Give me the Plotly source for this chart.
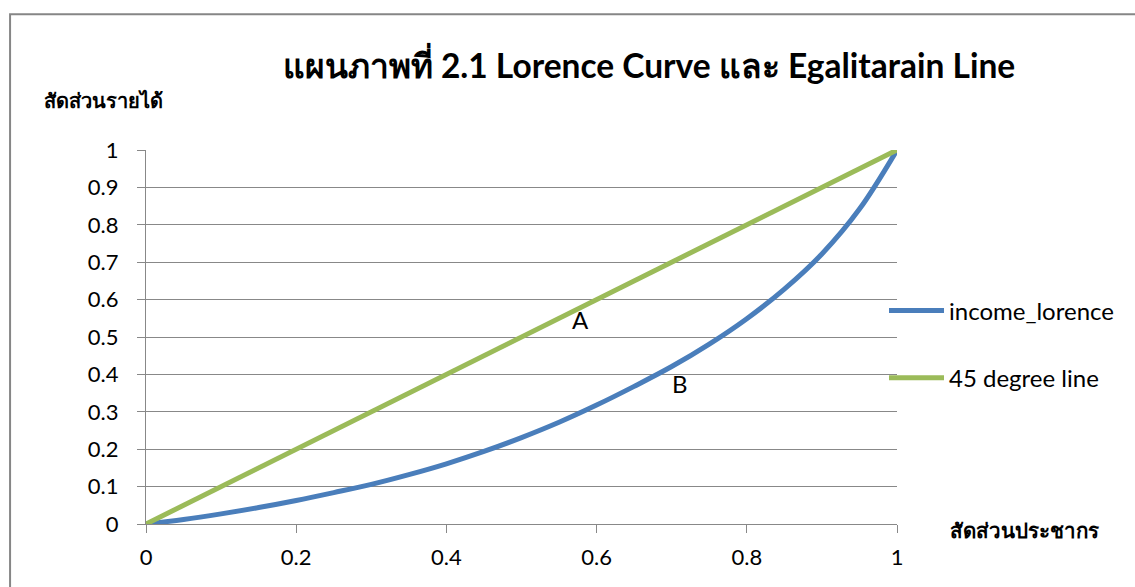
import plotly.graph_objects as go

# Cumulative population share and the matching cumulative income share
population_share = [0, 0.05, 0.1, 0.15, 0.2, 0.25, 0.3, 0.35, 0.4, 0.45, 0.5,
                    0.55, 0.6, 0.65, 0.7, 0.75, 0.8, 0.85, 0.9, 0.95, 1]
income_lorence = [0, 0.012, 0.027, 0.044, 0.063, 0.084, 0.106, 0.132, 0.161, 0.194, 0.231,
                  0.272, 0.318, 0.368, 0.421, 0.481, 0.549, 0.628, 0.722, 0.842, 1]
# Line of perfect equality
equality_x = [0, 1]
equality_y = [0, 1]

x_ticks = [0, 0.2, 0.4, 0.6, 0.8, 1]
x_tick_text = ["0", "0.2", "0.4", "0.6", "0.8", "1"]
y_ticks = [0, 0.1, 0.2, 0.3, 0.4, 0.5, 0.6, 0.7, 0.8, 0.9, 1]
y_tick_text = ["0", "0.1", "0.2", "0.3", "0.4", "0.5", "0.6", "0.7", "0.8", "0.9", "1"]

# Area labels: A between the lines, B under the curve
area_labels = ["A", "B"]
area_x = [0.579, 0.711]
area_y = [0.546, 0.375]

FONT = "Lato, 'Open Sans', sans-serif"
BLUE = "#4A7EBB"
GREEN = "#9BBB59"
GRID = "#888888"

fig = go.Figure()
fig.add_trace(go.Scatter(
    x=population_share, y=income_lorence, mode="lines", name="income_lorence",
    legendgroup="lorence",
    line=dict(color=BLUE, width=5, shape="spline", smoothing=1.0),
    cliponaxis=False,
))
fig.add_trace(go.Scatter(
    x=equality_x, y=equality_y, mode="lines", name="45 degree line",
    legendgroup="equality",
    line=dict(color=GREEN, width=5), cliponaxis=False,
))

for label, ax, ay in zip(area_labels, area_x, area_y):
    fig.add_annotation(x=ax, y=ay, text=label, showarrow=False,
                       font=dict(family=FONT, size=24, color="#000000"))

# Chart frame
fig.add_shape(type="rect", xref="paper", yref="paper",
              x0=-0.181, x1=1.5, y0=-0.5, y1=1.363,
              line=dict(color="#868686", width=2), layer="below")

# Axis titles
fig.add_annotation(xref="paper", yref="paper", x=-0.139, y=1.135,
                   xanchor="left", yanchor="middle", showarrow=False,
                   text="<b>สัดส่วนรายได้</b>",
                   font=dict(family=FONT, size=20, color="#000000"))
fig.add_annotation(xref="paper", yref="paper", x=1.068, y=-0.015,
                   xanchor="left", yanchor="middle", showarrow=False,
                   text="<b>สัดส่วนประชากร</b>",
                   font=dict(family=FONT, size=20.5, color="#000000"))

fig.update_layout(
    width=1135, height=587,
    margin=dict(l=146, r=238, t=150, b=63),
    paper_bgcolor="white", plot_bgcolor="white",
    title=dict(text="<b>แผนภาพที่ 2.1 Lorence Curve และ Egalitarain Line</b>",
               xref="container", yref="container", x=649 / 1135, y=1 - 66 / 587,
               xanchor="center", yanchor="middle",
               font=dict(family=FONT, size=33.5, color="#000000")),
    showlegend=True,
    legend=dict(x=0.9827, y=0.63, xanchor="left", yanchor="top",
                font=dict(family=FONT, size=24, color="#000000"),
                tracegroupgap=33, itemwidth=55, bgcolor="rgba(0,0,0,0)"),
    xaxis=dict(range=[0, 1], tickvals=x_ticks, ticktext=x_tick_text,
               showgrid=False, zeroline=False, showline=True,
               linecolor=GRID, linewidth=1.3,
               ticks="outside", ticklen=8, tickcolor=GRID, tickwidth=1.3,
               tickfont=dict(family=FONT, size=22, color="#000000"),
               ticklabelstandoff=5, fixedrange=True),
    yaxis=dict(range=[0, 1], tickvals=y_ticks, ticktext=y_tick_text,
               showgrid=True, gridcolor=GRID, gridwidth=1.3,
               zeroline=False, showline=True, linecolor=GRID, linewidth=1.3,
               ticks="outside", ticklen=8, tickcolor=GRID, tickwidth=1.3,
               tickfont=dict(family=FONT, size=22, color="#000000"),
               ticklabelstandoff=14, fixedrange=True),
)

fig.write_html("out.html")
